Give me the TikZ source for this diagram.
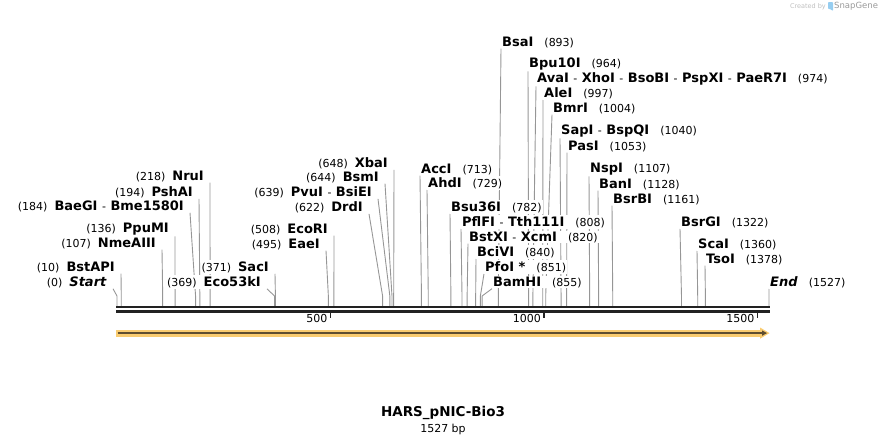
\documentclass[tikz,border=0pt]{standalone}
\usepackage{fontspec}
\setmainfont{DejaVu Sans}
\definecolor{cutgray}{RGB}{150,150,150}
\definecolor{seqdark}{RGB}{34,34,34}
\definecolor{featfill}{RGB}{250,204,112}
\definecolor{featline}{RGB}{95,78,48}
\definecolor{snapblue}{RGB}{150,205,240}
\newcommand\bpnum[1]{{\mdseries\fontsize{11}{13}\selectfont(#1)}}
\newcommand\dsh{\hspace{4.5pt}{\mdseries\fontsize{11}{13}\selectfont-}\hspace{4.5pt}}
\newcommand\bpx[1]{117+#1*0.42698}
\pgfdeclarelayer{bg}
\pgfsetlayers{bg,main}

\begin{document}
\begin{tikzpicture}[x=1pt,y=-1pt,
		lbl/.style={font=\fontsize{13}{15}\selectfont\bfseries, inner sep=1pt, fill=white},
		cutline/.style={cutgray, line width=0.9pt},
		ticklbl/.style={font=\fontsize{11}{13}\selectfont, anchor=east, inner sep=0pt}]
		\useasboundingbox (0,0) rectangle (886,445);

		% sites labelled to the left of their line
		\foreach \p/\tx/\ty/\txt in {0/113/282/{\bpnum{0}\hspace{7pt}\textit{Start}},
				10/121/267/{\bpnum{10}\hspace{7pt}BstAPI},
				107/162/243/{\bpnum{107}\hspace{7pt}NmeAIII},
				136/175/229/{\bpnum{136}\hspace{7pt}PpuMI},
				184/190/206/{\bpnum{184}\hspace{7pt}BaeGI\dsh Bme1580I},
				194/199/192/{\bpnum{194}\hspace{7pt}PshAI},
				218/210/176/{\bpnum{218}\hspace{7pt}NruI},
				369/267/282/{\bpnum{369}\hspace{7pt}Eco53kI},
				371/275/267/{\bpnum{371}\hspace{7pt}SacI},
				495/326/244/{\bpnum{495}\hspace{7pt}EaeI},
				508/334/229/{\bpnum{508}\hspace{7pt}EcoRI},
				622/369/207/{\bpnum{622}\hspace{7pt}DrdI},
				639/378/192/{\bpnum{639}\hspace{7pt}PvuI\dsh BsiEI},
				644/385/177/{\bpnum{644}\hspace{7pt}BsmI},
				648/394/163/{\bpnum{648}\hspace{7pt}XbaI}} {
			\coordinate (cut\p) at ({\bpx{\p}},306);
			\coordinate (bend\p) at ({\bpx{\p}},296);
			\node[lbl, anchor=east] (lbl\p) at (\tx-5,\ty) {\txt};
			\begin{pgfonlayer}{bg}
				\draw[cutline] ([xshift=5pt]lbl\p.south east) -- (bend\p) -- (cut\p);
			\end{pgfonlayer}
		}

		% sites labelled to the right of their line
		\foreach \p/\tx/\ty/\txt in {713/420/169/{AccI\hspace{11pt}\bpnum{713}},
				729/427/183/{AhdI\hspace{11pt}\bpnum{729}},
				782/450/207/{Bsu36I\hspace{11pt}\bpnum{782}},
				808/461/222/{PflFI\dsh Tth111I\hspace{11pt}\bpnum{808}},
				820/468/237/{BstXI\dsh XcmI\hspace{11pt}\bpnum{820}},
				840/476/252/{BciVI\hspace{11pt}\bpnum{840}},
				851/484/267/{PfoI *\hspace{11pt}\bpnum{851}},
				855/492/282/{BamHI\hspace{11pt}\bpnum{855}},
				893/501/42/{BsaI\hspace{11pt}\bpnum{893}},
				964/528/64/{Bpu10I\hspace{11pt}\bpnum{964}},
				974/536/79/{AvaI\dsh XhoI\dsh BsoBI\dsh PspXI\dsh PaeR7I\hspace{11pt}\bpnum{974}},
				997/543/93/{AleI\hspace{11pt}\bpnum{997}},
				1004/552/108/{BmrI\hspace{11pt}\bpnum{1004}},
				1040/560/131/{SapI\dsh BspQI\hspace{11pt}\bpnum{1040}},
				1053/567/146/{PasI\hspace{11pt}\bpnum{1053}},
				1107/589/169/{NspI\hspace{11pt}\bpnum{1107}},
				1128/598/184/{BanI\hspace{11pt}\bpnum{1128}},
				1161/612/199/{BsrBI\hspace{11pt}\bpnum{1161}},
				1322/680/222/{BsrGI\hspace{11pt}\bpnum{1322}},
				1360/697/244/{ScaI\hspace{11pt}\bpnum{1360}},
				1378/705/259/{TsoI\hspace{11pt}\bpnum{1378}},
				1527/769/282/{\textit{End}\hspace{11pt}\bpnum{1527}}} {
			\coordinate (cut\p) at ({\bpx{\p}},306);
			\coordinate (bend\p) at ({\bpx{\p}},296);
			\node[lbl, anchor=west] (lbl\p) at (\tx,\ty) {\txt};
			\begin{pgfonlayer}{bg}
				\draw[cutline] (lbl\p.south west) -- (bend\p) -- (cut\p);
			\end{pgfonlayer}
		}

		\draw[seqdark, line width=2.4pt] (116,307.2) -- (770,307.2);
		\draw[seqdark, line width=2.4pt] (116,311.5) -- (770,311.5);
		\foreach \t in {500,1000,1500} {
			\draw[seqdark, line width=1.8pt] ({\bpx{\t}},312) -- ({\bpx{\t}},318);
			\node[ticklbl] (tick\t) at ({\bpx{\t}-3},318) {\t};
		}

		% feature arrow
		\fill[featfill] (116,329.6) rectangle (762,336.6);
		\fill[featfill] (760,327.5) -- (769.5,333.1) -- (760,338.7) -- cycle;
		\draw[featline, line width=1.5pt] (117.5,333.1) -- (763,333.1);
		\fill[featline] (762,330.4) -- (767,333.1) -- (762,335.8) -- cycle;

		\node[font=\fontsize{13.5}{16}\selectfont\bfseries] (title) at (443,413) {HARS\_pNIC-Bio3};
		\node[font=\fontsize{11}{13}\selectfont] (length) at (443,429) {1527 bp};

		\node[font=\fontsize{6.5}{8}\selectfont, text=black!25, anchor=east, inner sep=0pt] (credit) at (826,6.5) {Created by};
		\fill[snapblue, rounded corners=0.8pt] (828,2) -- (833,2) -- (833,11) -- (830,9) -- (828,9) -- cycle;
		\node[font=\fontsize{8.5}{10}\selectfont, text=black!40, anchor=west, inner sep=0pt] (snapgene) at (834,6.5) {SnapGene};
	\end{tikzpicture}
\end{document}
